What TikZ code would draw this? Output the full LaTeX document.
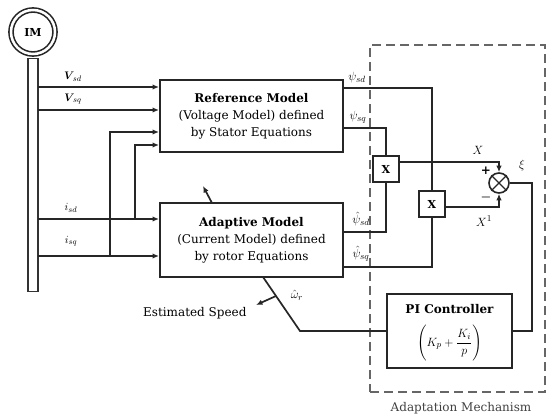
\documentclass[tikz,border=0pt]{standalone}
\usepackage{amsmath}
\usepackage{fontspec}
\setmainfont{DejaVu Serif}
\usetikzlibrary{arrows.meta}
\begin{document}
\begin{tikzpicture}[x=1pt,y=-1pt,
  wire/.style={line width=1.7pt, draw=black!85},
  arr/.style={wire, -{Latex[length=6.5pt,width=5.5pt]}},
  blockbox/.style={draw=black!85, line width=2pt, fill=white, align=center, font=\fontsize{12}{17}\selectfont, inner sep=0pt},
  mulbox/.style={draw=black!85, line width=2pt, minimum size=26pt, inner sep=0pt, font=\bfseries\fontsize{11}{13}\selectfont, fill=white},
  lab/.style={font=\fontsize{13}{15}\selectfont, inner sep=0.5pt},
  slab/.style={font=\fontsize{11}{13}\selectfont, inner sep=1pt}
]
\useasboundingbox (0,0) rectangle (547,418);
% adaptation mechanism frame
\node[draw=black!60, line width=1.8pt, dash pattern=on 9pt off 5pt, minimum width=175pt, minimum height=347pt, inner sep=0pt] (adm) at (457.5,218.5) {};
\node[font=\fontsize{12}{14}\selectfont, text=black!75] (admlab) at (461,408) {Adaptation Mechanism};
% motor
\node[circle, draw=black!85, double, double distance=2.5pt, line width=1.6pt, minimum size=44pt, font=\bfseries\fontsize{11}{13}\selectfont] (im) at (33,32) {IM};
\node[draw=black!80, line width=1.5pt, minimum width=10pt, minimum height=233pt, inner sep=0pt] (bar) at (33,175) {};
% blocks
\node[blockbox, minimum width=183pt, minimum height=72pt] (ref) at (251.5,116) {\textbf{Reference Model}\\(Voltage Model) defined\\by Stator Equations};
\node[blockbox, minimum width=183pt, minimum height=74pt] (ada) at (251.5,240) {\textbf{Adaptive Model}\\(Current Model) defined\\by rotor Equations};
\node[blockbox, minimum width=125pt, minimum height=74pt] (pi) at (449.5,331) {};
\node[font=\bfseries\fontsize{12}{14}\selectfont, inner sep=0pt] (pititle) at (449.5,309) {PI Controller};
\node[font=\fontsize{13}{15}\selectfont, inner sep=0pt] (piform) at (449.5,343) {$\displaystyle\Biggl(K_p+\frac{K_i}{p}\Biggr)$};
\node[mulbox] (x1) at (386,169) {X};
\node[mulbox] (x2) at (432,204) {X};
\node[circle, draw=black!85, line width=1.6pt, minimum size=20pt, inner sep=0pt] (sum) at (499,183) {};
\draw[line width=1.3pt, black!85] (sum.north west) -- (sum.south east) (sum.north east) -- (sum.south west);
% inputs
\coordinate (vsd) at (38,87);
\coordinate (vsq) at (38,110);
\coordinate (isd) at (38,219);
\coordinate (isq) at (38,256);
\draw[arr] (vsd) -- (vsd -| ref.west);
\draw[arr] (vsq) -- (vsq -| ref.west);
\draw[arr] (isd) -- (isd -| ada.west);
\draw[arr] (isq) -- (isq -| ada.west);
\node[slab] (lvsd) at (73,77) {$\boldsymbol{V}_{\!sd}$};
\node[slab] (lvsq) at (73,99) {$\boldsymbol{V}_{\!sq}$};
\node[slab] (lisd) at (71,208) {$i_{sd}$};
\node[slab] (lisq) at (71,241) {$i_{sq}$};
\coordinate (j1) at (110,256);
\coordinate (t1) at (110,132);
\coordinate (j2) at (135,219);
\coordinate (t2) at (135,145);
\draw[arr] (j1) -- (t1) -- (t1 -| ref.west);
\draw[arr] (j2) -- (t2) -- (t2 -| ref.west);
% between blocks
\coordinate (h1) at (212,203);
\coordinate (h2) at (203,186);
\draw[arr] (h1) -- (h2);
% outputs
\coordinate (c1) at (432,88);
\coordinate (c2) at (386,128);
\coordinate (c3) at (386,232);
\coordinate (c4) at (432,267);
\draw[wire] (c1 -| ref.east) -- (c1) -- (x2.north);
\draw[wire] (c2 -| ref.east) -- (c2) -- (x1.north);
\draw[wire] (c3 -| ada.east) -- (c3) -- (x1.south);
\draw[wire] (c4 -| ada.east) -- (c4) -- (x2.south);
\node[lab] (lpsd) at (357,77) {$\psi_{sd}$};
\node[lab] (lpsq) at (358,117) {$\psi_{sq}$};
\node[lab] (lhsd) at (361,219) {$\hat{\psi}_{sd}$};
\node[lab] (lhsq) at (361,254) {$\hat{\psi}_{sq}$};
% to summing junction
\draw[arr] ([yshift=7pt]x1.east) -| (sum.north);
\draw[arr] ([yshift=-3pt]x2.east) -| (sum.south);
\node[lab] (lx) at (478,150) {$X$};
\node[lab] (lx1) at (484,221) {$X^{1}$};
\node[font=\bfseries\fontsize{12}{14}\selectfont] (lplus) at (486,171) {+};
\node[font=\bfseries\fontsize{12}{14}\selectfont] (lminus) at (486,197) {$\boldsymbol{-}$};
\node[lab] (lxi) at (522,165) {$\xi$};
\coordinate (e1) at (532,183);
\draw[wire] (sum.east) -- (e1) |- (pi.east);
% estimated speed
\coordinate (f1) at (300,331);
\coordinate (f2) at (263,277);
\draw[wire] (pi.west) -- (f1) -- (f2);
\coordinate (g1) at (276,296);
\coordinate (g2) at (256,305);
\draw[arr] (g1) -- (g2);
\node[lab] (lw) at (297,295) {$\hat{\omega}_r$};
\node[font=\fontsize{12}{14}\selectfont, anchor=east] (les) at (250,313) {Estimated Speed};
\end{tikzpicture}
\end{document}
